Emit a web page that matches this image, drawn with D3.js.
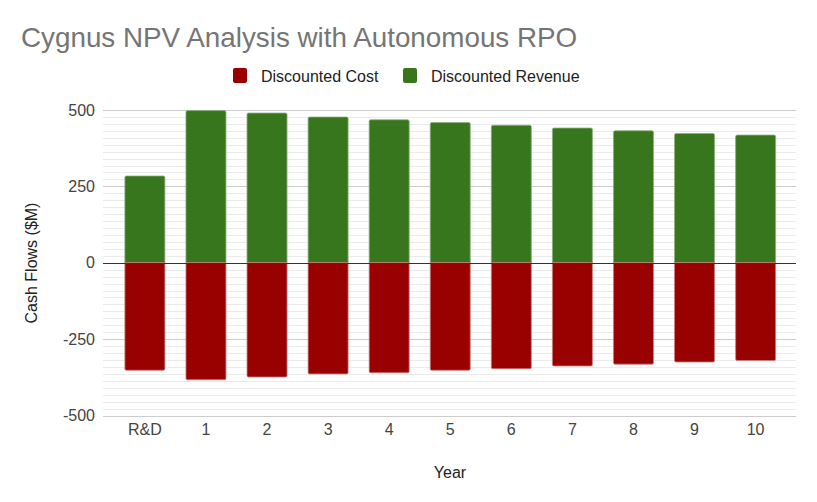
<!DOCTYPE html>
<html><head><meta charset="utf-8">
<script src="https://cdn.jsdelivr.net/npm/d3@7"></script>
<style>body{margin:0;background:#fff}svg{display:block;font-family:"Liberation Sans",Arial,sans-serif}</style>
</head><body><svg id="c" width="817" height="502"></svg>
<script>
const categories = ["R&D","1","2","3","4","5","6","7","8","9","10"];
const discountedCost = [-352,-383,-374,-364,-360,-352,-347,-338,-332,-325,-320];
const discountedRevenue = [284,498,490,477,468,459,450,441,432,423,418];
const yTicks = [-500,-250,0,250,500];
const seriesNames = ["Discounted Cost","Discounted Revenue"];
const colors = ["#990000","#38761d"];

const svg = d3.select("#c");
const x = d3.scaleBand().domain(categories).range([114.5,786]).paddingInner(0.345).paddingOuter(0.17);
const y = d3.scaleLinear().domain([-500,500]).range([415.5,110]);
const gridL = 103, gridR = 796;

// minor gridlines
const minor = [];
for (let i=0;i<yTicks.length-1;i++){
  const a=yTicks[i], b=yTicks[i+1];
  for (let k=1;k<=10;k++) minor.push(a+(b-a)*k/11);
}
svg.append("g").selectAll("line").data(minor).join("line")
  .attr("x1",gridL).attr("x2",gridR)
  .attr("y1",d=>Math.round(y(d))+0.5).attr("y2",d=>Math.round(y(d))+0.5)
  .attr("stroke","#ebebeb").attr("stroke-width",1);
svg.append("g").selectAll("line").data(yTicks.filter(d=>d!==0)).join("line")
  .attr("x1",gridL).attr("x2",gridR)
  .attr("y1",d=>Math.round(y(d))+0.5).attr("y2",d=>Math.round(y(d))+0.5)
  .attr("stroke","#cccccc").attr("stroke-width",1);

// bars
const bw = x.bandwidth();
svg.append("g").selectAll("path").data(categories.map((c,i)=>({c,v:discountedRevenue[i]}))).join("path")
  .attr("d",d=>{const x0=x(d.c), y0=y(d.v), y1=y(0), r=1.5;
    return `M${x0},${y1}V${y0+r}Q${x0},${y0} ${x0+r},${y0}H${x0+bw-r}Q${x0+bw},${y0} ${x0+bw},${y0+r}V${y1}Z`;})
  .attr("fill",colors[1]).attr("stroke","#8cae7f").attr("stroke-width",0.8);
svg.append("g").selectAll("path").data(categories.map((c,i)=>({c,v:discountedCost[i]}))).join("path")
  .attr("d",d=>{const x0=x(d.c), y0=y(d.v), y1=y(0), r=1.5;
    return `M${x0},${y1}V${y0-r}Q${x0},${y0} ${x0+r},${y0}H${x0+bw-r}Q${x0+bw},${y0} ${x0+bw},${y0-r}V${y1}Z`;})
  .attr("fill",colors[0]).attr("stroke","#c97f7f").attr("stroke-width",0.8);

// zero baseline
svg.append("line").attr("x1",gridL).attr("x2",gridR)
  .attr("y1",Math.round(y(0))+0.5).attr("y2",Math.round(y(0))+0.5)
  .attr("stroke","#333333").attr("stroke-width",1);

// y axis labels
const yAxis = d3.axisLeft(y).tickValues(yTicks).tickFormat(d=>String(d)).tickSize(0).tickPadding(8);
const ga = svg.append("g").attr("transform",`translate(${gridL},0)`).call(yAxis);
ga.select(".domain").remove();
ga.selectAll("text").attr("font-size",16).attr("fill","#444").attr("font-family","Liberation Sans, Arial, sans-serif");

// x axis labels
const xAxis = d3.axisBottom(x).tickSize(0).tickPadding(0);
const gx = svg.append("g").attr("transform",`translate(0,424)`).call(xAxis);
gx.select(".domain").remove();
gx.selectAll("text").attr("font-size",16).attr("fill","#444").attr("dy","0.71em").attr("font-family","Liberation Sans, Arial, sans-serif");

// axis titles
svg.append("text").attr("x",450).attr("y",478).attr("text-anchor","middle")
  .attr("font-size",16).attr("fill","#222").text("Year");
svg.append("text").attr("transform","translate(37,263) rotate(-90)").attr("text-anchor","middle")
  .attr("font-size",16).attr("fill","#222").text("Cash Flows ($M)");

// title
svg.append("text").attr("x",21).attr("y",47).attr("font-size",27.8).attr("fill","#757575").text("Cygnus NPV Analysis with Autonomous RPO");

// legend
const leg = svg.append("g");
const items = [{n:seriesNames[0],c:colors[0],x:233},{n:seriesNames[1],c:colors[1],x:403}];
items.forEach(it=>{
  leg.append("rect").attr("x",it.x).attr("y",68).attr("width",14).attr("height",15).attr("rx",2).attr("fill",it.c);
  leg.append("text").attr("x",it.x+28).attr("y",81.5).attr("font-size",16).attr("fill","#222").text(it.n);
});
</script></body></html>
